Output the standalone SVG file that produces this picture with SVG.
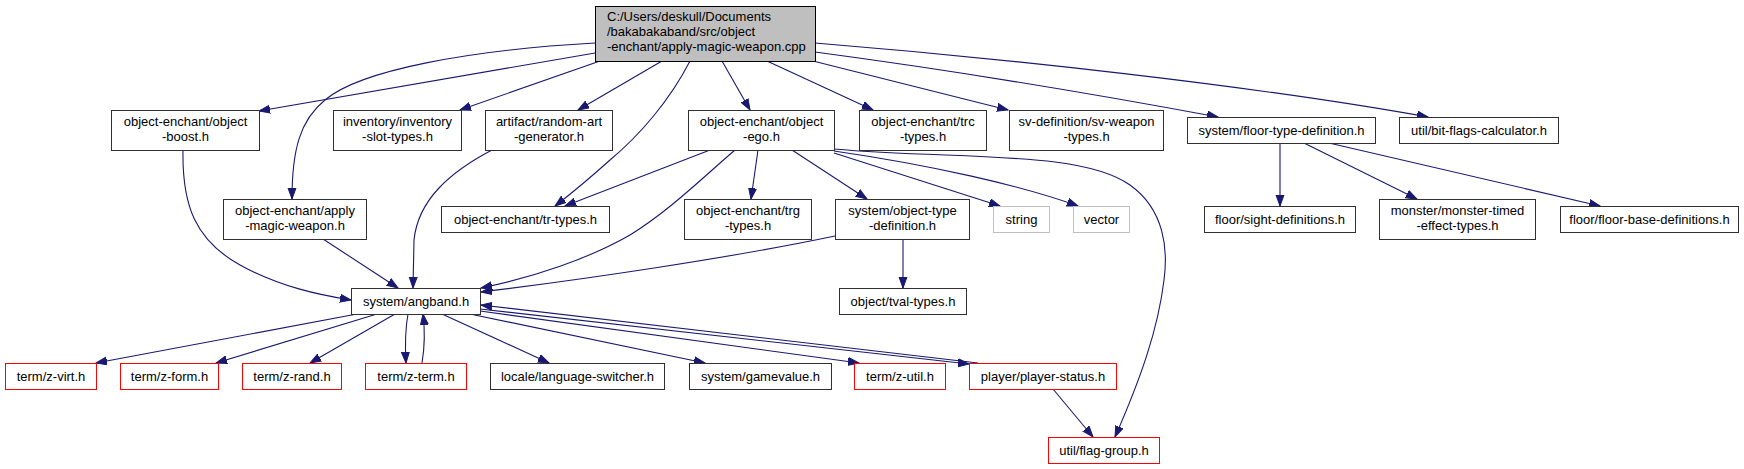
<svg xmlns="http://www.w3.org/2000/svg" width="1744" height="469" viewBox="0 0 1744 469">
<style>
text{font-family:"Liberation Sans",Arial,sans-serif;font-size:13px;fill:#000;text-anchor:middle}
.n rect{fill:#fff;stroke:#303030;stroke-width:1}
.r rect{fill:#fff;stroke:#ff0000;stroke-width:1}
.g rect{fill:#fff;stroke:#bfbfbf;stroke-width:1}
.m rect{fill:#bfbfbf;stroke:#000;stroke-width:1}
.m text{text-anchor:start}
#edges path{fill:none;stroke:#191970;stroke-width:1.1;marker-end:url(#a)}
</style>
<defs>
<marker id="a" markerUnits="userSpaceOnUse" markerWidth="12" markerHeight="10" refX="11" refY="4.5" orient="auto">
<path d="M0,0.5 L11,4.5 L0,8.5 z" fill="#191970" stroke="#191970" stroke-width="1"/>
</marker>
</defs>
<rect width="1744" height="469" fill="#fff"/>
<g id="edges">
<path d="M595,53 L259,111"/>
<path d="M600,61 L460,110"/>
<path d="M662,61 L578,110"/>
<path d="M595,43 C470,50 360,70 325,100 C300,120 292,150 292,199"/>
<path d="M690,61 C670,100 640,135 610,160 C590,178 572,193 555,206"/>
<path d="M710,150 L565,206"/>
<path d="M722,61 L750,110"/>
<path d="M767,61 L873,110"/>
<path d="M813,61 L1008,110"/>
<path d="M815,52 C950,70 1100,95 1218,117"/>
<path d="M815,43 C1000,58 1250,85 1428,117"/>
<path d="M1280,143 L1280,206"/>
<path d="M1304,143 L1417,199"/>
<path d="M1329,143 L1600,206"/>
<path d="M735,150 C700,180 670,210 630,235 C590,258 535,277 481,288"/>
<path d="M758,150 L751,199"/>
<path d="M792,150 L867,199"/>
<path d="M834,153 L1000,206"/>
<path d="M834,151 C930,165 1020,185 1078,206"/>
<path d="M834,149 C960,160 1080,150 1130,185 C1165,210 1168,250 1164,280 C1158,330 1140,380 1115,437"/>
<path d="M903,239 L903,288"/>
<path d="M835,236 C730,258 580,280 481,292"/>
<path d="M492,150 C450,172 418,200 414,240 L413,288"/>
<path d="M323,239 L398,288"/>
<path d="M183,150 C182,205 195,240 240,265 C280,287 320,295 351,300"/>
<path d="M357,314 L96,363"/>
<path d="M377,314 L216,363"/>
<path d="M395,314 L310,363"/>
<path d="M408,314 C405,330 405,345 406,363"/>
<path d="M422,363 C425,345 425,330 423,314"/>
<path d="M442,314 L549,363"/>
<path d="M470,314 L705,363"/>
<path d="M480,311 L859,363"/>
<path d="M480,309 L969,364"/>
<path d="M978,363 L481,305"/>
<path d="M1053,389 L1093,437"/>
</g>
<g id="main" class="m"><rect x="595.5" y="6.5" width="220" height="55"/><text x="607" y="21">C:/Users/deskull/Documents</text><text x="607" y="36">/bakabakaband/src/object</text><text x="607" y="51">-enchant/apply-magic-weapon.cpp</text></g>
<g id="boost" class="n"><rect x="111.5" y="110.5" width="148" height="40"/><text x="185.5" y="126">object-enchant/object</text><text x="185.5" y="141">-boost.h</text></g>
<g id="inventory" class="n"><rect x="333.5" y="110.5" width="128" height="40"/><text x="397.5" y="126">inventory/inventory</text><text x="397.5" y="141">-slot-types.h</text></g>
<g id="artifact" class="n"><rect x="485.5" y="110.5" width="127" height="40"/><text x="549" y="126">artifact/random-art</text><text x="549" y="141">-generator.h</text></g>
<g id="ego" class="n"><rect x="688.5" y="110.5" width="146" height="40"/><text x="761.5" y="126">object-enchant/object</text><text x="761.5" y="141">-ego.h</text></g>
<g id="trc" class="n"><rect x="859.5" y="110.5" width="127" height="40"/><text x="923" y="126">object-enchant/trc</text><text x="923" y="141">-types.h</text></g>
<g id="svweapon" class="n"><rect x="1009.5" y="110.5" width="154" height="40"/><text x="1086.5" y="126">sv-definition/sv-weapon</text><text x="1086.5" y="141">-types.h</text></g>
<g id="floortype" class="n"><rect x="1187.5" y="117.5" width="188" height="26"/><text x="1281.5" y="135">system/floor-type-definition.h</text></g>
<g id="bitflags" class="n"><rect x="1399.5" y="117.5" width="159" height="26"/><text x="1479" y="135">util/bit-flags-calculator.h</text></g>
<g id="applyh" class="n"><rect x="223.5" y="199.5" width="143" height="40"/><text x="295" y="215">object-enchant/apply</text><text x="295" y="230">-magic-weapon.h</text></g>
<g id="trtypes" class="n"><rect x="441.5" y="206.5" width="168" height="26"/><text x="525.5" y="224">object-enchant/tr-types.h</text></g>
<g id="trg" class="n"><rect x="684.5" y="199.5" width="127" height="40"/><text x="748" y="215">object-enchant/trg</text><text x="748" y="230">-types.h</text></g>
<g id="objtype" class="n"><rect x="835.5" y="199.5" width="134" height="40"/><text x="902.5" y="215">system/object-type</text><text x="902.5" y="230">-definition.h</text></g>
<g id="string" class="g"><rect x="993.5" y="206.5" width="56" height="26"/><text x="1021.5" y="224">string</text></g>
<g id="vector" class="g"><rect x="1073.5" y="206.5" width="56" height="26"/><text x="1101.5" y="224">vector</text></g>
<g id="sight" class="n"><rect x="1204.5" y="206.5" width="151" height="26"/><text x="1280" y="224">floor/sight-definitions.h</text></g>
<g id="monster" class="n"><rect x="1379.5" y="199.5" width="156" height="40"/><text x="1457.5" y="215">monster/monster-timed</text><text x="1457.5" y="230">-effect-types.h</text></g>
<g id="floorbase" class="n"><rect x="1560.5" y="206.5" width="178" height="26"/><text x="1649.5" y="224">floor/floor-base-definitions.h</text></g>
<g id="angband" class="n"><rect x="351.5" y="288.5" width="129" height="26"/><text x="416" y="306">system/angband.h</text></g>
<g id="tval" class="n"><rect x="839.5" y="288.5" width="127" height="26"/><text x="903" y="306">object/tval-types.h</text></g>
<g id="zvirt" class="r"><rect x="5.5" y="363.5" width="91" height="26"/><text x="51" y="381">term/z-virt.h</text></g>
<g id="zform" class="r"><rect x="120.5" y="363.5" width="98" height="26"/><text x="169.5" y="381">term/z-form.h</text></g>
<g id="zrand" class="r"><rect x="242.5" y="363.5" width="99" height="26"/><text x="292" y="381">term/z-rand.h</text></g>
<g id="zterm" class="r"><rect x="365.5" y="363.5" width="101" height="26"/><text x="416" y="381">term/z-term.h</text></g>
<g id="lang" class="n"><rect x="490.5" y="363.5" width="174" height="26"/><text x="577.5" y="381">locale/language-switcher.h</text></g>
<g id="gamevalue" class="n"><rect x="689.5" y="363.5" width="142" height="26"/><text x="760.5" y="381">system/gamevalue.h</text></g>
<g id="zutil" class="r"><rect x="854.5" y="363.5" width="91" height="26"/><text x="900" y="381">term/z-util.h</text></g>
<g id="playerstatus" class="r"><rect x="969.5" y="363.5" width="147" height="26"/><text x="1043" y="381">player/player-status.h</text></g>
<g id="flaggroup" class="r"><rect x="1048.5" y="437.5" width="111" height="26"/><text x="1104" y="455">util/flag-group.h</text></g>
</svg>
